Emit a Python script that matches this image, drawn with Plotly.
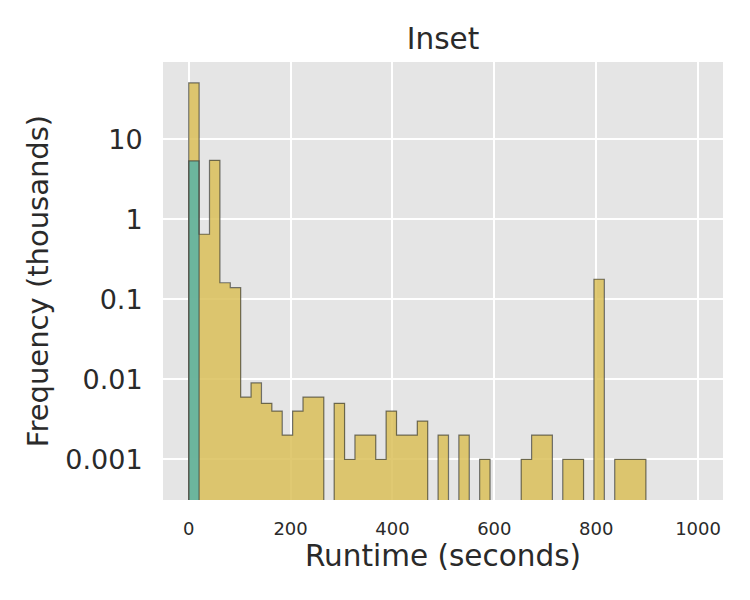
import plotly.graph_objects as go

# ---- data (frequency in thousands per 20.4-second bin) ----
bin_start = 0.0
bin_width = 20.4
all_runs = [50.6, 0.65, 5.46, 0.161, 0.14, 0.006, 0.009, 0.005, 0.004, 0.002,
            0.004, 0.006, 0.006, 0, 0.005, 0.001, 0.002, 0.002, 0.001, 0.004,
            0.002, 0.002, 0.003, 0, 0.002, 0, 0.002, 0, 0.001, 0,
            0, 0, 0.001, 0.002, 0.002, 0, 0.001, 0.001, 0, 0.178,
            0, 0.001, 0.001, 0.001]
subset_runs = [5.36] + [0] * 43
ytick_vals = [10, 1, 0.1, 0.01, 0.001]
ytick_text = ["10", "1", "0.1", "0.01", "0.001"]
xtick_vals = [0, 200, 400, 600, 800, 1000]

FLOOR = 1e-7  # below visible range; used to close step outlines

def centers(n):
    return [bin_start + bin_width * (i + 0.5) for i in range(n)]

def step_outline(vals):
    xs, ys = [bin_start], [FLOOR]
    for i, v in enumerate(vals):
        h = v if v > 0 else FLOOR
        xs += [bin_start + bin_width * i, bin_start + bin_width * (i + 1)]
        ys += [h, h]
    xs.append(bin_start + bin_width * len(vals))
    ys.append(FLOOR)
    return xs, ys

def nz(vals):
    return [v if v > 0 else None for v in vals]

YELLOW = "rgba(218,192,89,0.85)"
TEAL = "rgba(88,177,166,0.85)"
EDGE = "rgba(70,70,60,0.75)"

fig = go.Figure()
for vals, col in [(all_runs, YELLOW), (subset_runs, TEAL)]:
    fig.add_trace(go.Bar(x=centers(len(vals)), y=nz(vals), width=bin_width,
                         marker=dict(color=col, line=dict(width=0)),
                         showlegend=False, hoverinfo="skip"))
    sx, sy = step_outline(vals)
    fig.add_trace(go.Scatter(x=sx, y=sy, mode="lines",
                             line=dict(color=EDGE, width=1.2),
                             showlegend=False, hoverinfo="skip"))

TXT = "#2a2a2a"
fig.update_layout(
    width=750, height=600,
    margin=dict(l=163, r=27, t=62, b=100),
    paper_bgcolor="white", plot_bgcolor="#e5e5e5",
    barmode="overlay", bargap=0,
    font=dict(family="DejaVu Sans", color=TXT),
    title=dict(text="Inset", x=0.5, xanchor="center", xref="paper",
               y=0.935, yanchor="middle", font=dict(size=29.5, color=TXT)),
    xaxis=dict(range=[-50.5, 1049], tickvals=xtick_vals,
               showgrid=True, gridcolor="white", gridwidth=2,
               zeroline=False, showline=False,
               ticks="outside", ticklen=12, tickcolor="rgba(0,0,0,0)",
               tickfont=dict(size=18, color=TXT),
               title=dict(text="Runtime (seconds)", font=dict(size=29.5, color=TXT),
                          standoff=6)),
    yaxis=dict(type="log", range=[-3.509, 1.966],
               tickvals=ytick_vals, ticktext=ytick_text,
               showgrid=True, gridcolor="white", gridwidth=2,
               zeroline=False, showline=False,
               ticks="outside", ticklen=14, tickcolor="rgba(0,0,0,0)",
               tickfont=dict(size=27, color=TXT),
               title=dict(text="Frequency (thousands)", font=dict(size=29, color=TXT),
                          standoff=8)),
)

fig.write_html("out.html")
